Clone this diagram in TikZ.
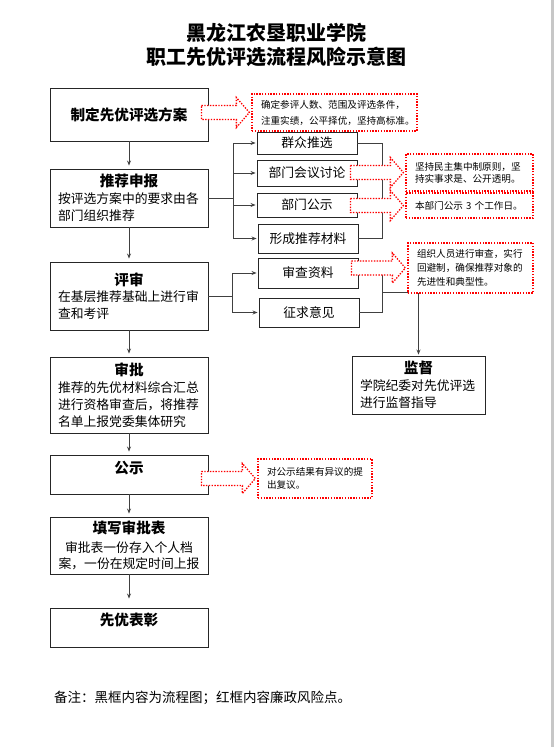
\documentclass[tikz,border=0pt]{standalone}
\usepackage{fontspec}
\setmainfont{Noto Sans CJK SC}
\usetikzlibrary{arrows.meta, calc, positioning}

\newcommand{\headsize}{\fontsize{14.6}{18}\selectfont}
\newcommand{\bodysize}{\fontsize{12.8}{16.8}\selectfont}
\newcommand{\hd}[1]{{\centering\bfseries\headsize #1\par}}

% red dotted block arrow from a flow box to its risk box
\newcommand{\riskarrow}[2]{%
  \filldraw[riskline] let \p1=(#1.east), \p2=(#2.west) in
    (\x1-7pt,\y2+7pt) -- (\x2-15pt,\y2+7pt) -- (\x2-15pt,\y2+15pt) -- (\x2-2pt,\y2)
    -- (\x2-15pt,\y2-15pt) -- (\x2-15pt,\y2-7pt) -- (\x1-7pt,\y2-7pt) -- cycle;
}

\tikzset{
  titletext/.style={inner sep=0pt, font=\bfseries\fontsize{20}{24}\selectfont},
  flowbox/.style={draw=black!85, line width=0.9pt, fill=white, minimum width=158pt,
    text width=142pt, inner xsep=8pt, inner ysep=0pt, font=\bodysize},
  smallbox/.style={draw=black!85, line width=0.9pt, fill=white, minimum width=100pt,
    inner sep=0pt, font=\bodysize},
  riskline/.style={draw=red, line width=1.3pt, dash pattern=on 1.4pt off 1.4pt, fill=white},
  riskbox/.style={riskline, inner xsep=9pt, inner ysep=0pt, align=left},
  flow/.style={draw=black!75, line width=0.9pt, -{Stealth[length=5pt,width=4pt]}, shorten >=3pt},
  link/.style={draw=black!75, line width=0.9pt},
}

\begin{document}
\begin{tikzpicture}[x=1pt,y=-1pt]
\useasboundingbox (0,0) rectangle (554,747);
\fill[black!22] (551,0) rectangle (554,747);

% title
\node[titletext] (title1) at (276.5,33) {黑龙江农垦职业学院};
\node[titletext] (title2) at (276.5,57) {职工先优评选流程风险示意图};

% main flow
\node[flowbox, minimum height=53pt, align=center] (zd) at (129,114.5) {\bfseries\headsize 制定先优评选方案};
\node[flowbox, minimum height=58pt] (tj) at (129,198) {\hd{推荐申报}按评选方案中的要求由各\\部门组织推荐};
\node[flowbox, minimum height=68pt] (ps) at (129,296) {\hd{评审}在基层推荐基础上进行审\\查和考评};
\node[flowbox, minimum height=76pt] (sp) at (129,395) {\hd{审批}推荐的先优材料综合汇总\\进行资格审查后，将推荐\\名单上报党委集体研究};
\node[flowbox, minimum height=39pt, align=center, text depth=14pt] (gs) at (129,474.5) {\bfseries\headsize 公示};
\node[flowbox, minimum height=57pt, align=center] (tx) at (129,545.5) {{\bfseries\headsize 填写审批表}\\[2pt]审批表一份存入个人档\\案，一份在规定时间上报};
\node[flowbox, minimum height=39pt, align=center, text depth=16pt] (xy) at (129,627.5) {\bfseries\headsize 先优表彰};

% side steps
\node[smallbox, minimum height=22pt] (qz) at (307,143) {群众推选};
\node[smallbox, minimum height=26pt] (hy) at (307,173) {部门会议讨论};
\node[smallbox, minimum height=24pt] (gsb) at (307,205) {部门公示};
\node[smallbox, minimum height=29pt] (xc) at (308,238.5) {形成推荐材料};
\node[smallbox, minimum height=30pt] (sc) at (308,273) {审查资料};
\node[smallbox, minimum height=29pt] (zq) at (309,312.5) {征求意见};

\node[flowbox, minimum width=133pt, text width=117pt, minimum height=58pt] (jd) at (418.5,385) {\hd{监督}学院纪委对先优评选\\进行监督指导};

% arrows down the main column
\draw[flow] (zd) -- (tj);
\draw[flow] (tj) -- (ps);
\draw[flow] (ps) -- (sp);
\draw[flow] (sp) -- (gs);
\draw[flow] (gs) -- (tx);
\draw[flow, shorten >=9pt] (tx) -- (xy);

% first bracket
\coordinate (fk1) at (233,198);
\coordinate (mg1) at (382.5,143);
\draw[link] (tj.east) -- (fk1);
\foreach \n in {qz,hy,gsb,xc}
  \draw[flow, shorten >=1pt] (fk1) |- (\n.west);
\draw[link] (qz.east) -- (mg1) -- (mg1 |- xc.east) -- (xc.east);
\draw[link] (hy.east) -- (hy.east -| mg1);
\draw[link] (gsb.east) -- (gsb.east -| mg1);

% second bracket
\coordinate (fk2) at (232,296);
\draw[link] (ps.east) -- (fk2);
\foreach \n in {sc,zq}
  \draw[flow, shorten >=1pt] (fk2) |- (\n.west);
\draw[link] (sc.east) -- (sc.east -| mg1) -- (zq.east -| mg1) -- (zq.east);
\coordinate (mg2) at ($(sc.east -| mg1)!0.5!(zq.east -| mg1)$);
\draw[flow, shorten >=1pt] (mg2) -| (jd.north);

% risk points
\node[riskbox, minimum width=165pt, text width=147pt, minimum height=37pt, font=\fontsize{9.6}{16}\selectfont] (r1) at (334.5,112.5)
  {确定参评人数、范围及评选条件，\\注重实绩，公平择优，坚持高标准。};
\node[riskbox, minimum width=127pt, text width=109pt, minimum height=37pt, font=\fontsize{9.6}{12}\selectfont] (r2) at (469.5,172.5)
  {坚持民主集中制原则，坚\\持实事求是、公开透明。};
\node[riskbox, minimum width=127pt, text width=109pt, minimum height=25pt, font=\fontsize{9.6}{12}\selectfont] (r3) at (469.5,205.5)
  {本部门公示 3 个工作日。};
\node[riskbox, minimum width=125pt, text width=107pt, minimum height=50pt, font=\fontsize{9.6}{14}\selectfont] (r4) at (470.5,268)
  {组织人员进行审查，实行\\回避制，确保推荐对象的\\先进性和典型性。};
\node[riskbox, minimum width=114pt, text width=96pt, minimum height=39pt, font=\fontsize{9.6}{13}\selectfont] (r5) at (315,478.5)
  {对公示结果有异议的提\\出复议。};

\riskarrow{zd}{r1}
\riskarrow{hy}{r2}
\riskarrow{gsb}{r3}
\riskarrow{sc}{r4}
\riskarrow{gs}{r5}

% note
\node[anchor=west, inner sep=0pt, font=\fontsize{13.5}{16}\selectfont] (note) at (54,698)
  {备注：黑框内容为流程图；红框内容廉政风险点。};
\end{tikzpicture}
\end{document}
